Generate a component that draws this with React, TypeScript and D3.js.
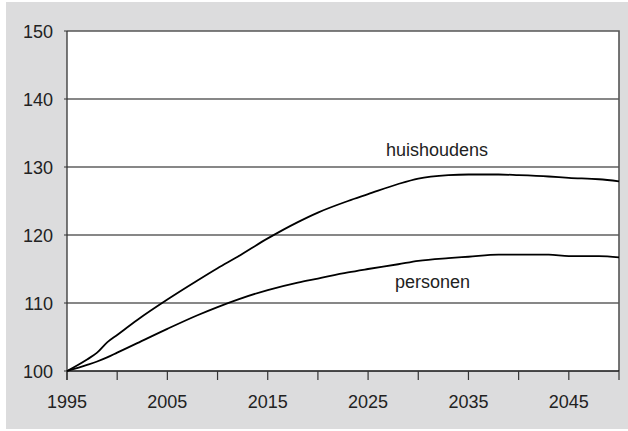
import React, { useEffect, useRef } from "react";
import * as d3 from "d3";

// values (index, 1995 = 100)
const years = [1995, 1997, 1998, 1999, 2000, 2002, 2005, 2008, 2010, 2012, 2015, 2018, 2020, 2023, 2025, 2028, 2030, 2033, 2035, 2038, 2040, 2043, 2045, 2048, 2050];
const huishoudens = [100, 101.7, 102.7, 104.2, 105.3, 107.5, 110.5, 113.3, 115.1, 116.8, 119.5, 121.9, 123.3, 125.0, 126.0, 127.5, 128.3, 128.8, 128.9, 128.9, 128.8, 128.6, 128.4, 128.2, 127.9];
const personen = [100, 100.9, 101.4, 102.0, 102.7, 104.1, 106.2, 108.2, 109.4, 110.5, 111.9, 113.0, 113.6, 114.5, 115.0, 115.7, 116.2, 116.6, 116.8, 117.1, 117.1, 117.1, 116.9, 116.9, 116.7];
const yTicks = [100, 110, 120, 130, 140, 150];
const xTicks = d3.range(1995, 2051, 5);
const xLabels = [1995, 2005, 2015, 2025, 2035, 2045];

const W = 628;
const H = 431;
const margin = { top: 31, right: 9, bottom: 60, left: 67 };

const App: React.FC = () => {
  const svgRef = useRef<SVGSVGElement | null>(null);

  useEffect(() => {
    const svg = d3.select(svgRef.current).attr("width", W).attr("height", H);
    svg.selectAll("*").remove();

    const x = d3
      .scaleLinear()
      .domain([1995, 2050])
      .range([margin.left, W - margin.right]);
    const y = d3
      .scaleLinear()
      .domain([100, 150])
      .range([H - margin.bottom, margin.top]);

    // background
    svg
      .append("rect")
      .attr("x", 6)
      .attr("y", 2)
      .attr("width", W - 6)
      .attr("height", H - 4)
      .attr("fill", "#dcdcdd");

    svg
      .append("rect")
      .attr("x", x(1995))
      .attr("y", y(150))
      .attr("width", x(2050) - x(1995))
      .attr("height", y(100) - y(150))
      .attr("fill", "#ffffff");

    // gridlines
    svg
      .append("g")
      .selectAll("line")
      .data(yTicks.slice(1, -1))
      .join("line")
      .attr("x1", x(1995))
      .attr("x2", x(2050))
      .attr("y1", (d) => y(d))
      .attr("y2", (d) => y(d))
      .attr("stroke", "#111")
      .attr("stroke-width", 1.2);

    // frame
    svg
      .append("path")
      .attr("d", `M${x(1995)},${y(150)}H${x(2050)}V${y(100)}`)
      .attr("fill", "none")
      .attr("stroke", "#555")
      .attr("stroke-width", 1.6);
    svg
      .append("line")
      .attr("x1", x(1995))
      .attr("x2", x(1995))
      .attr("y1", y(150))
      .attr("y2", y(100) + 9)
      .attr("stroke", "#333")
      .attr("stroke-width", 1.3);
    svg
      .append("line")
      .attr("x1", x(1995))
      .attr("x2", x(2050))
      .attr("y1", y(100))
      .attr("y2", y(100))
      .attr("stroke", "#111")
      .attr("stroke-width", 1.3);

    // x ticks
    svg
      .append("g")
      .selectAll("line")
      .data(xTicks)
      .join("line")
      .attr("x1", (d) => x(d))
      .attr("x2", (d) => x(d))
      .attr("y1", y(100))
      .attr("y2", y(100) + 9)
      .attr("stroke", "#333")
      .attr("stroke-width", 1.2);

    // y ticks
    svg
      .append("g")
      .selectAll("line")
      .data(yTicks)
      .join("line")
      .attr("x1", x(1995) - 3)
      .attr("x2", x(1995))
      .attr("y1", (d) => y(d))
      .attr("y2", (d) => y(d))
      .attr("stroke", "#333")
      .attr("stroke-width", 1);

    const font = "'Liberation Sans', Arial, sans-serif";

    svg
      .append("g")
      .selectAll("text")
      .data(yTicks)
      .join("text")
      .attr("x", 53)
      .attr("y", (d) => y(d) + 6.5)
      .attr("text-anchor", "end")
      .attr("font-family", font)
      .attr("font-size", 18)
      .attr("fill", "#222")
      .text((d) => d);

    svg
      .append("g")
      .selectAll("text")
      .data(xLabels)
      .join("text")
      .attr("x", (d) => x(d))
      .attr("y", 407.5)
      .attr("text-anchor", "middle")
      .attr("font-family", font)
      .attr("font-size", 18)
      .attr("fill", "#222")
      .text((d) => d);

    // series
    const line = d3
      .line<number>()
      .x((_, i) => x(years[i]))
      .y((d) => y(d))
      .curve(d3.curveMonotoneX);

    [huishoudens, personen].forEach((s) => {
      svg
        .append("path")
        .datum(s)
        .attr("d", line)
        .attr("fill", "none")
        .attr("stroke", "#000")
        .attr("stroke-width", 1.8);
    });

    svg
      .append("text")
      .attr("x", 386)
      .attr("y", 156)
      .attr("font-family", font)
      .attr("font-size", 18)
      .attr("fill", "#222")
      .text("huishoudens");
    svg
      .append("text")
      .attr("x", 395)
      .attr("y", 288)
      .attr("font-family", font)
      .attr("font-size", 18)
      .attr("fill", "#222")
      .text("personen");
  }, []);

  return (
    <div style={{ position: "absolute", left: 0, top: 0 }}>
      <svg ref={svgRef}></svg>
    </div>
  );
};

export default App;
